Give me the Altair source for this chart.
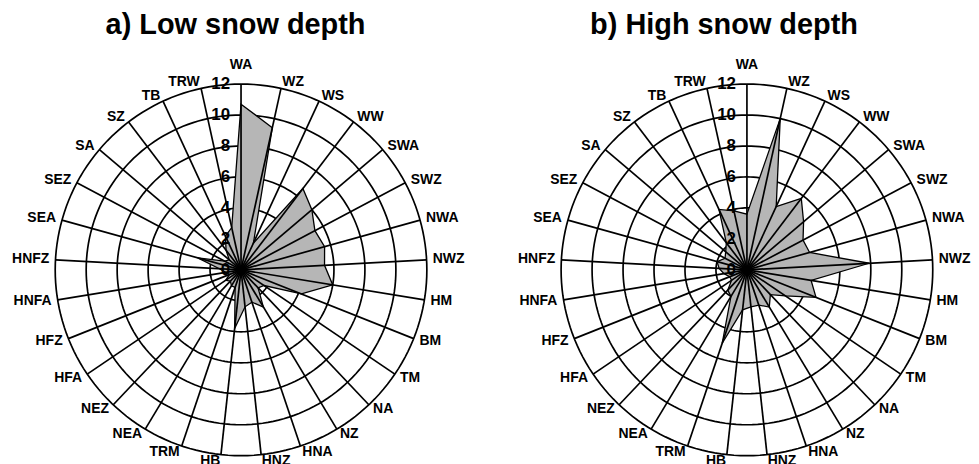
import altair as alt
import pandas as pd

# ---------------- data ----------------
categories = ["WA", "WZ", "WS", "WW", "SWA", "SWZ", "NWA", "NWZ", "HM", "BM",
              "TM", "NA", "NZ", "HNA", "HNZ", "HB", "TRM", "NEA", "NEZ", "HFA",
              "HFZ", "HNFA", "HNFZ", "SEA", "SEZ", "SA", "SZ", "TB", "TRW"]

low_snow = [10.7, 9.4, 1.9, 6.6, 6.0, 5.4, 5.6, 5.4, 6.0, 4.2,
            1.8, 1.6, 2.8, 2.2, 2.4, 3.8, 1.2, 1.2, 1.0, 1.2,
            0.8, 1.0, 1.4, 2.9, 1.2, 1.0, 1.6, 2.4, 2.8]

high_snow = [3.6, 10.0, 4.5, 5.8, 4.8, 4.1, 4.2, 7.9, 4.2, 4.8,
             3.0, 2.2, 2.8, 2.4, 2.4, 2.6, 5.0, 2.0, 1.8, 1.2,
             1.2, 1.5, 1.8, 2.0, 1.6, 1.8, 2.2, 4.3, 3.9]

ring_values = [2, 4, 6, 8, 10, 12]
tick_values = [0, 2, 4, 6, 8, 10, 12]
titles = ["a) Low snow depth", "b) High snow depth"]

# ---------------- layout / style ----------------
N = len(categories)
R_MAX = 12
PX = 15.55            # pixels per unit
PANEL_W = [482, 481]
PANEL_H = 456
CENTER_X = [234, 260]
CENTER_Y = 262
TITLE_X = [228.5, 237]
TITLE_Y = 25
FONT = "Liberation Sans"
GRID_W = 1.7


def panel(values, title, w, cx, tx):
    xs = alt.Scale(domain=[-cx / PX, (w - cx) / PX], nice=False, zero=False)
    ys = alt.Scale(domain=[-(PANEL_H - CENTER_Y) / PX, CENTER_Y / PX], nice=False, zero=False)

    def X(f):
        return alt.X(f, type="quantitative", scale=xs, axis=None)

    def Y(f):
        return alt.Y(f, type="quantitative", scale=ys, axis=None)

    df = pd.DataFrame({"idx": list(range(N)), "cat": categories, "v": values})
    ang = f"datum.idx * 2 * PI / {N}"

    rings = (
        alt.Chart(pd.DataFrame({"r": ring_values}))
        .transform_calculate(a="sequence(0, 361, 2)")
        .transform_flatten(["a"])
        .transform_calculate(x="datum.r * sin(datum.a * PI / 180)",
                             y="datum.r * cos(datum.a * PI / 180)")
        .mark_line(stroke="black", strokeWidth=GRID_W)
        .encode(x=X("x"), y=Y("y"), detail="r:N", order="a:Q")
    )

    poly = (
        alt.Chart(df)
        .transform_calculate(t=ang)
        .transform_calculate(x="datum.v * sin(datum.t)", y="datum.v * cos(datum.t)")
        .mark_line(interpolate="linear-closed", fill="#b6b6b6", stroke="black",
                   strokeWidth=1.3)
        .encode(x=X("x"), y=Y("y"), order="idx:Q")
    )

    spokes = (
        alt.Chart(df)
        .transform_calculate(t=ang)
        .transform_calculate(x0="0", y0="0",
                             x1=f"{R_MAX} * sin(datum.t)", y1=f"{R_MAX} * cos(datum.t)")
        .mark_rule(stroke="black", strokeWidth=GRID_W)
        .encode(x=X("x0"), y=Y("y0"), x2=alt.X2("x1"), y2=alt.Y2("y1"))
    )

    lab_base = (
        alt.Chart(df)
        .transform_calculate(t=ang)
        .transform_calculate(rl="datum.idx == 0 ? 13.25 : 12.4")
        .transform_calculate(lx="datum.rl * sin(datum.t)", ly="datum.rl * cos(datum.t)",
                             s="sin(datum.t)")
    )
    txt = dict(font=FONT, fontSize=14, fontWeight="bold", color="black", baseline="middle")
    lab_r = lab_base.transform_filter("datum.s > 0.05").mark_text(align="left", **txt).encode(
        x=X("lx"), y=Y("ly"), text="cat:N")
    lab_l = lab_base.transform_filter("datum.s < -0.05").mark_text(align="right", **txt).encode(
        x=X("lx"), y=Y("ly"), text="cat:N")
    lab_c = lab_base.transform_filter("abs(datum.s) <= 0.05").mark_text(align="center", **txt).encode(
        x=X("lx"), y=Y("ly"), text="cat:N")

    ticks = (
        alt.Chart(pd.DataFrame({"tv": tick_values}))
        .transform_calculate(zx="0")
        .mark_text(align="right", baseline="middle", dx=-11, font=FONT, fontSize=17,
                   fontWeight="bold", color="black")
        .encode(x=X("zx"), y=Y("tv"), text="tv:Q")
    )

    ttl = (
        alt.Chart(pd.DataFrame({"t": [title]}))
        .mark_text(align="center", baseline="alphabetic", font=FONT, fontSize=29,
                   fontWeight="bold", color="black")
        .encode(x=alt.value(tx), y=alt.value(TITLE_Y), text="t:N")
    )

    return alt.layer(rings, poly, spokes, lab_r, lab_l, lab_c, ticks, ttl).properties(
        width=w, height=PANEL_H)


left = panel(low_snow, titles[0], PANEL_W[0], CENTER_X[0], TITLE_X[0])
right = panel(high_snow, titles[1], PANEL_W[1], CENTER_X[1], TITLE_X[1])

chart = (
    alt.hconcat(left, right, spacing=0)
    .properties(padding=0, background="white")
    .configure_view(stroke=None)
)

chart.save("out.html", embed_options={"renderer": "svg", "actions": False})
